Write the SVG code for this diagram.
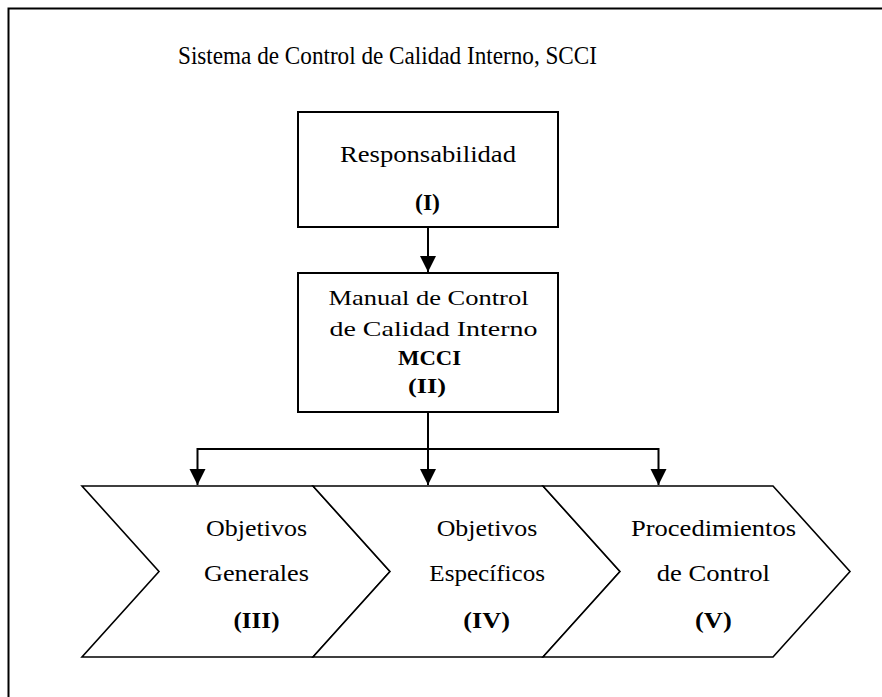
<svg xmlns="http://www.w3.org/2000/svg" width="882" height="697" viewBox="0 0 882 697">
<style>
  text { font-family: "Liberation Serif", "DejaVu Serif", serif; fill: #000; }
  .t { font-size: 25px; }
  .r { font-size: 24px; }
  .m { font-size: 21px; }
  .c { font-size: 24px; }
  .b { font-weight: bold; }
  .box { fill: #fff; stroke: #000; stroke-width: 2; }
  .chev { fill: #fff; stroke: #000; stroke-width: 1.6; stroke-linejoin: miter; }
  .conn { fill: none; stroke: #000; stroke-width: 2; }
</style>
<defs>
  <marker id="ah" markerUnits="userSpaceOnUse" markerWidth="16" markerHeight="17" refX="16" refY="8" orient="auto">
    <path d="M0,0 L16,8 L0,16 Z" fill="#000"/>
  </marker>
</defs>
<rect width="882" height="697" fill="#fff"/>
<path d="M8.5,697 L8.5,8.5 L882,8.5" fill="none" stroke="#000" stroke-width="2"/>
<text class="t" x="178" y="64" textLength="419" lengthAdjust="spacingAndGlyphs">Sistema de Control de Calidad Interno, SCCI</text>

<g id="node-responsabilidad">
  <rect class="box" x="298" y="112" width="260" height="115"/>
  <text class="r" x="340" y="162" textLength="176" lengthAdjust="spacingAndGlyphs">Responsabilidad</text>
  <text class="r b" x="415" y="210" textLength="25" lengthAdjust="spacingAndGlyphs">(I)</text>
</g>

<g id="node-mcci">
  <rect class="box" x="298" y="273" width="260" height="139"/>
  <text class="m" x="328.5" y="304.5" textLength="200" lengthAdjust="spacingAndGlyphs">Manual de Control</text>
  <text class="m" x="329.5" y="335.5" textLength="208" lengthAdjust="spacingAndGlyphs">de Calidad Interno</text>
  <text class="m b" x="398" y="365" textLength="63" lengthAdjust="spacingAndGlyphs">MCCI</text>
  <text class="m b" x="408" y="393" textLength="38" lengthAdjust="spacingAndGlyphs">(II)</text>
</g>

<g id="node-objetivos-generales">
  <path class="chev" d="M82,486 L313,486 L390,571.5 L313,657 L82,657 L159,571.5 Z"/>
  <text class="c" x="206" y="536" textLength="101" lengthAdjust="spacingAndGlyphs">Objetivos</text>
  <text class="c" x="204" y="581" textLength="105" lengthAdjust="spacingAndGlyphs">Generales</text>
  <text class="c b" x="233.5" y="628" textLength="46" lengthAdjust="spacingAndGlyphs">(III)</text>
</g>

<g id="node-objetivos-especificos">
  <path class="chev" d="M313,486 L543,486 L620,571.5 L543,657 L313,657 L390,571.5 Z"/>
  <text class="c" x="436.7" y="536" textLength="100.6" lengthAdjust="spacingAndGlyphs">Objetivos</text>
  <text class="c" x="429.3" y="581" textLength="115.7" lengthAdjust="spacingAndGlyphs">Específicos</text>
  <text class="c b" x="463.3" y="628" textLength="46.7" lengthAdjust="spacingAndGlyphs">(IV)</text>
</g>

<g id="node-procedimientos">
  <path class="chev" d="M543,486 L773,486 L850,571.5 L773,657 L543,657 L620,571.5 Z"/>
  <text class="c" x="631" y="536" textLength="165" lengthAdjust="spacingAndGlyphs">Procedimientos</text>
  <text class="c" x="656.7" y="581" textLength="113.3" lengthAdjust="spacingAndGlyphs">de Control</text>
  <text class="c b" x="695" y="628" textLength="36.7" lengthAdjust="spacingAndGlyphs">(V)</text>
</g>

<g id="connectors">
  <path class="conn" d="M428,227 L428,272" marker-end="url(#ah)"/>
  <path class="conn" d="M428,412 L428,485" marker-end="url(#ah)"/>
  <path class="conn" d="M428,449 L197.5,449 L197.5,485" marker-end="url(#ah)"/>
  <path class="conn" d="M428,449 L658.5,449 L658.5,485" marker-end="url(#ah)"/>
</g>
</svg>
